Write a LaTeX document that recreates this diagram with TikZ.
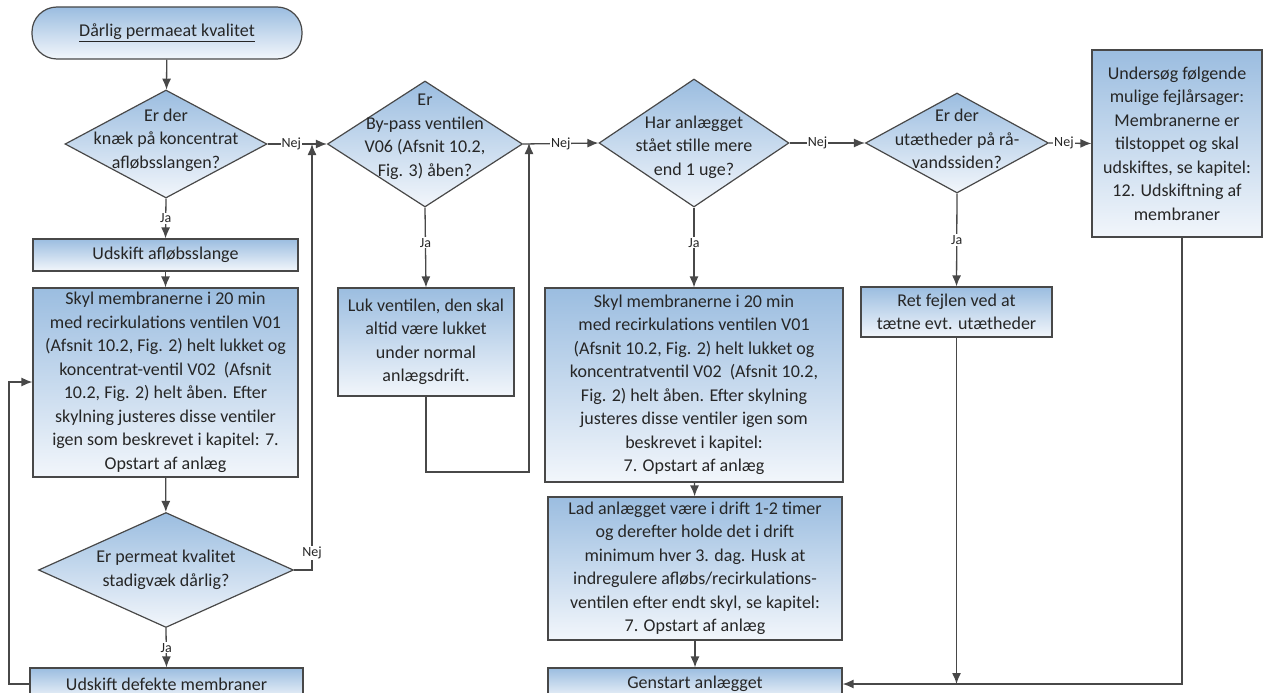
\documentclass[tikz,border=0pt]{standalone}
\usepackage{fontspec}
\setmainfont{Carlito}
\usetikzlibrary{shapes.geometric,arrows.meta}
\definecolor{boxtop}{RGB}{155,189,224}
\definecolor{boxbot}{RGB}{242,246,251}
\definecolor{edge}{RGB}{72,72,72}
\begin{document}
\begin{tikzpicture}
    [
    x=1pt, y=-1pt,
    box/.style={rectangle,draw=edge,line width=1.2pt,top color=boxtop,bottom color=boxbot,inner sep=0pt},
    terminal/.style={box,rounded corners=25pt,minimum width=270pt,minimum height=52pt},
    decision/.style={diamond,draw=edge,line width=1.2pt,top color=boxtop,bottom color=boxbot,inner sep=0pt},
    txt/.style={align=center,font=\fontsize{18}{23.5}\selectfont,text=black!85,inner sep=0pt},
    lbl/.style={fill=white,inner sep=1pt,font=\fontsize{14}{16}\selectfont,text=black!85},
    arr/.style={draw=edge,line width=1.3pt,-{Latex[length=11pt,width=9pt]}}
    ]
    \useasboundingbox (0,0) rectangle (1263,693);
    % start
    \node (start) at (167,33) [terminal,txt] {\underline{Dårlig permaeat kvalitet}};
    % left column
    \node (d1) at (166,144) [decision,minimum width=202pt,minimum height=108pt] {};
    \node (d1t) at (166,140) [txt] {Er der\\knæk på koncentrat\\afløbsslangen?};
    \node (b1) at (165.5,255) [box,txt,minimum width=265pt,minimum height=32pt] {Udskift afløbsslange};
    \node (b2) at (165.5,382.5) [box,txt,minimum width=265pt,minimum height=189pt] {Skyl membranerne i 20 min\\med recirkulations ventilen V01\\(Afsnit 10.2, Fig. 2) helt lukket og\\koncentrat-ventil V02~ (Afsnit\\10.2, Fig. 2) helt åben. Efter\\skylning justeres disse ventiler\\igen som beskrevet i kapitel: 7.\\Opstart af anlæg};
    \node (d5) at (166,570) [decision,minimum width=255pt,minimum height=115pt] {};
    \node (d5t) at (166,570) [txt] {Er permeat kvalitet\\stadigvæk dårlig?};
    \node (b3) at (166.5,684) [box,txt,minimum width=273pt,minimum height=32pt] {Udskift defekte membraner};
    % second column
    \node (d2) at (425,144) [decision,minimum width=195pt,minimum height=126pt] {};
    \node (d2t) at (425,137) [txt] {Er\\By-pass ventilen\\V06 (Afsnit 10.2,\\Fig. 3) åben?};
    \node (luk) at (426,342) [box,txt,minimum width=176pt,minimum height=108pt] {Luk ventilen, den skal\\altid være lukket\\under normal\\anlægsdrift.};
    % third column
    \node (d3) at (694,143) [decision,minimum width=190pt,minimum height=128pt] {};
    \node (d3t) at (694,147) [txt] {Har anlægget\\stået stille mere\\end 1 uge?};
    \node (s2) at (694,385) [box,txt,minimum width=298pt,minimum height=194pt] {Skyl membranerne i 20 min\\med recirkulations ventilen V01\\(Afsnit 10.2, Fig. 2) helt lukket og\\koncentratventil V02~ (Afsnit 10.2,\\Fig. 2) helt åben. Efter skylning\\justeres disse ventiler igen som\\beskrevet i kapitel:\\7. Opstart af anlæg};
    \node (lad) at (695,568.5) [box,txt,minimum width=294pt,minimum height=143pt] {Lad anlægget være i drift 1-2 timer\\og derefter holde det i drift\\minimum hver 3. dag. Husk at\\indregulere afløbs/recirkulations-\\ventilen efter endt skyl, se kapitel:\\7. Opstart af anlæg};
    \node (gen) at (695,684) [box,txt,minimum width=294pt,minimum height=32pt] {Genstart anlægget};
    % fourth column
    \node (d4) at (957,143) [decision,minimum width=183pt,minimum height=100pt] {};
    \node (d4t) at (957,139) [txt] {Er der\\utætheder på rå-\\vandssiden?};
    \node (ret) at (956.5,312) [box,txt,minimum width=191pt,minimum height=50pt] {Ret fejlen ved at\\tætne evt. utætheder};
    \node (und) at (1177,143.5) [box,txt,minimum width=170pt,minimum height=187pt] {Undersøg følgende\\mulige fejlårsager:\\Membranerne er\\tilstoppet og skal\\udskiftes, se kapitel:\\12. Udskiftning af\\membraner};
    \coordinate (j1) at (312,144);
    \coordinate (j2) at (529,143);
    \coordinate (k1) at (9,382);
    % connectors
    \draw [arr] (start) to (d1);
    \draw [arr] (d1.south) to node [lbl] {Ja} (b1.north);
    \draw [arr] (b1) to (b2);
    \draw [arr] (b2) to (d5);
    \draw [arr] (d5.south) to node [lbl] {Ja} (b3.north);
    \draw [arr] (d5.east) -| node [lbl,pos=0.52] {Nej} (j1);
    \draw [arr] (b3.west) -| (k1) -- (b2.west |- k1);
    \draw [arr] (d1.east) to node [lbl,pos=0.4] {Nej} (d2.west);
    \draw [arr] (d2.south) to node [lbl,pos=0.44] {Ja} (luk.north);
    \draw [arr] (luk.south) |- (426,472) -| (j2);
    \draw [arr] (d2.east) to node [lbl] {Nej} (d3.west);
    \draw [arr] (d3.south) to node [lbl,pos=0.44] {Ja} (s2.north);
    \draw [arr] (s2) to (lad);
    \draw [arr] (lad) to (gen);
    \draw [arr] (d3.east) to node [lbl,pos=0.37] {Nej} (d4.west);
    \draw [arr] (d4.south) to node [lbl] {Ja} (ret.north);
    \draw [arr] (d4.east) to node [lbl,pos=0.35] {Nej} (und.west);
    \draw [arr] (und.south -| 1182,0) |- (gen.east);
    \draw [arr] (ret.south) to (ret.south |- gen.east);
  \end{tikzpicture}
\end{document}
